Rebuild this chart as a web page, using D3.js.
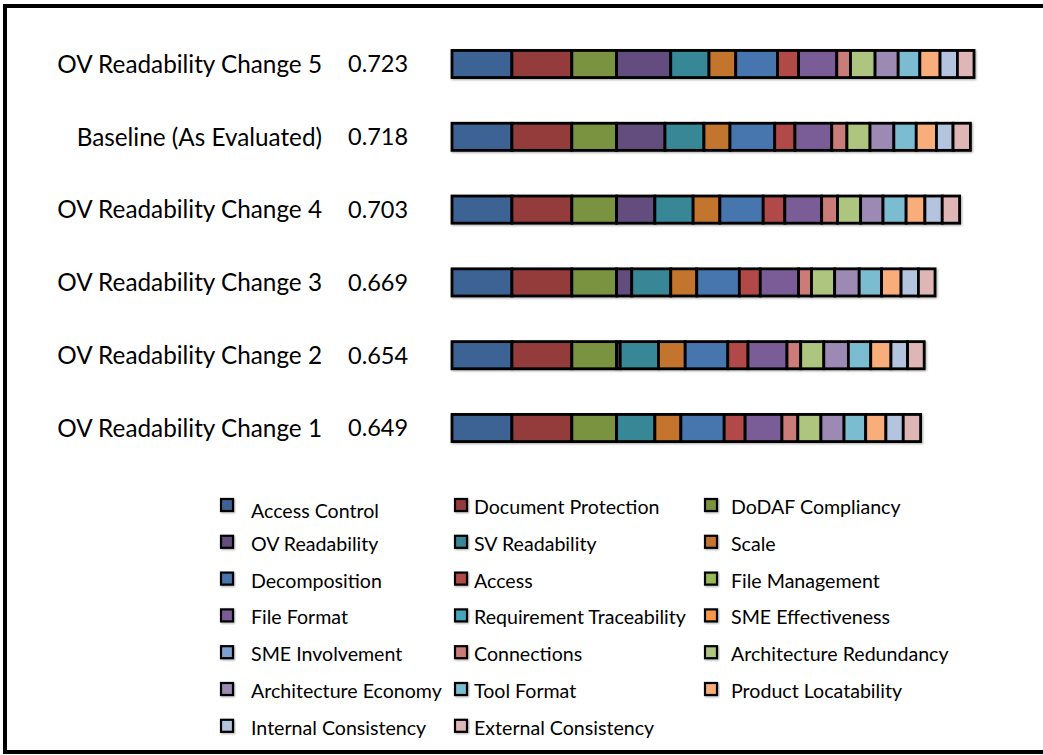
<!DOCTYPE html>
<html><head><meta charset="utf-8">
<script src="https://cdn.jsdelivr.net/npm/d3@7"></script>
<style>html,body{margin:0;padding:0;background:#fff;} svg{display:block;}</style>
</head><body>
<svg id="chart" width="1043" height="755"></svg>
<script>
const categories = ["OV Readability Change 5","Baseline (As Evaluated)","OV Readability Change 4","OV Readability Change 3","OV Readability Change 2","OV Readability Change 1"];
const totals = ["0.723","0.718","0.703","0.669","0.654","0.649"];
const seriesNames = ["Access Control","Document Protection","DoDAF Compliancy","OV Readability","SV Readability","Scale","Decomposition","Access","File Management","File Format","Requirement Traceability","SME Effectiveness","SME Involvement","Connections","Architecture Redundancy","Architecture Economy","Tool Format","Product Locatability","Internal Consistency","External Consistency"];
const seriesColors = ["#3C6395","#943B3A","#79933F","#644D7E","#378797","#C3742F","#4676AF","#B14A48","#98B954","#7A5D96","#47A3BB","#F79646","#7F9FCF","#CB7B79","#ADC57E","#9C8AB4","#7BBCD0","#F9AD7A","#B4C3DE","#DFB6B6"];
// values per category, in seriesNames order
const change5  = [0.083,0.083,0.062,0.075,0.053,0.037,0.058,0.029,0,0.053,0,0,0,0.019,0.034,0.032,0.030,0.028,0.024,0.023];
const baseline = [0.083,0.083,0.062,0.067,0.054,0.036,0.062,0.028,0,0.051,0,0,0,0.021,0.032,0.033,0.031,0.028,0.023,0.024];
const change4  = [0.083,0.083,0.062,0.053,0.053,0.037,0.060,0.030,0,0.051,0,0,0,0.022,0.032,0.031,0.032,0.026,0.024,0.024];
const change3  = [0.083,0.083,0.062,0.021,0.054,0.036,0.059,0.029,0,0.053,0,0,0,0.018,0.032,0.034,0.031,0.027,0.024,0.023];
const change2  = [0.083,0.083,0.062,0.005,0.053,0.037,0.059,0.028,0,0.054,0,0,0,0.019,0.032,0.034,0.031,0.028,0.023,0.023];
const change1  = [0.083,0.083,0.062,0,0.053,0.036,0.060,0.029,0,0.051,0,0,0,0.022,0.032,0.032,0.030,0.028,0.024,0.024];
const rowValues = [change5, baseline, change4, change3, change2, change1];

const FONT = "Lato, 'Open Sans', sans-serif";
const svg = d3.select("#chart");

// frame
svg.append("rect").attr("x",5).attr("y",6).attr("width",1045).attr("height",746)
  .attr("fill","none").attr("stroke","#000").attr("stroke-width",4);

const table = categories.map((c,i)=>{
  const o = {category:c};
  seriesNames.forEach((s,j)=>o[s]=rowValues[i][j]);
  return o;
});
const stack = d3.stack().keys(seriesNames)(table);

const x = d3.scaleLinear().domain([0,0.8]).range([452, 452+0.8*722]);
const y = d3.scaleBand().domain(categories).range([27.6,464.4]).paddingInner(0.6).paddingOuter(0.3);
const color = d3.scaleOrdinal().domain(seriesNames).range(seriesColors);

// shadow filter
const defs = svg.append("defs");
const f = defs.append("filter").attr("id","sh").attr("x","-10%").attr("y","-30%").attr("width","130%").attr("height","160%");
f.append("feGaussianBlur").attr("in","SourceAlpha").attr("stdDeviation",1).attr("result","b");
f.append("feOffset").attr("in","b").attr("dx",1).attr("dy",1).attr("result","o");
f.append("feComponentTransfer").attr("in","o").attr("result","t").append("feFuncA").attr("type","linear").attr("slope",0.35);
const m = f.append("feMerge"); m.append("feMergeNode").attr("in","t"); m.append("feMergeNode").attr("in","SourceGraphic");

const bars = svg.append("g").attr("filter","url(#sh)");
bars.selectAll("g.series").data(stack).join("g").attr("class","series")
  .attr("fill",d=>color(d.key))
  .selectAll("rect").data(d=>d.filter(p=>p[1]-p[0]>0)).join("rect")
  .attr("x",d=>x(d[0])).attr("width",d=>x(d[1])-x(d[0]))
  .attr("y",d=>y(d.data.category)+1).attr("height",y.bandwidth()-2)
  .attr("stroke","#000").attr("stroke-width",2.8);

// category labels
const labels = svg.append("g").attr("font-family",FONT).attr("fill","#000");
labels.selectAll("text.cat").data(categories).join("text").attr("class","cat")
  .attr("font-size",24.3)
  .attr("x",322).attr("y",d=>y(d)+y.bandwidth()/2).attr("dy","0.36em")
  .attr("text-anchor","end").text(d=>d);
labels.selectAll("text.val").data(totals).join("text").attr("class","val")
  .attr("font-size",23.5)
  .attr("x",348).attr("y",(d,i)=>y(categories[i])+y.bandwidth()/2).attr("dy","0.36em")
  .text(d=>d);

// legend
const colX = [221, 455, 705];
const textX = [251, 474, 731];
const leg = svg.append("g").attr("font-family",FONT).attr("font-size",19.6).attr("fill","#000");
seriesNames.forEach((s,i)=>{
  const r = Math.floor(i/3), c = i%3;
  const base = 514 + r*36.8;
  leg.append("rect").attr("x",colX[c]).attr("y",base-15).attr("width",12).attr("height",12)
    .attr("fill",color(s)).attr("stroke","#000").attr("stroke-width",2.2).attr("filter","url(#sh)");
  leg.append("text").attr("x",textX[c]).attr("y",base + (i===0?4:0)).text(s);
});
</script>
</body></html>
